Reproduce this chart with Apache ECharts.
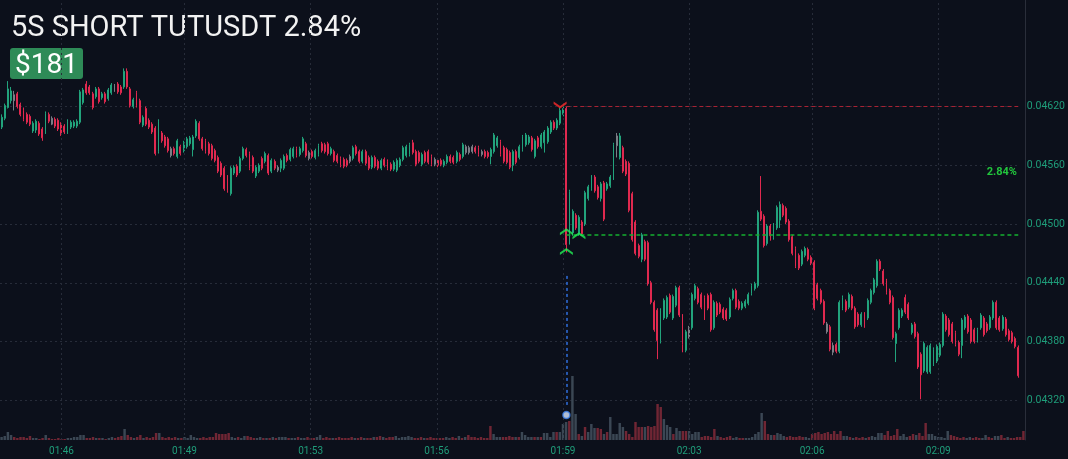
<!DOCTYPE html>
<html><head><meta charset="utf-8">
<script src="https://cdn.jsdelivr.net/npm/echarts@6/dist/echarts.min.js"></script>
<style>html,body{margin:0;padding:0;background:#0c101b}#c{width:1068px;height:459px}</style>
</head><body><div id="c"></div>
<script>
// [open, close, low, high]
const ohlc = [
[.04599,.04609,.04597,.04612],[.04608,.04621,.04606,.04623],[.04619,.04638,.04618,.04646],[.04626,.04636,.04623,.04640],[.04632,.04626,.04616,.04636],
[.04633,.04620,.04618,.04635],[.04622,.04612,.04610,.04624],[.04616,.04607,.04605,.04619],[.04612,.04604,.04602,.04614],[.04610,.04602,.04600,.04612],
[.04595,.04603,.04593,.04605],[.04596,.04605,.04593,.04607],[.04603,.04592,.04590,.04605],[.04597,.04588,.04585,.04599],[.04594,.04613,.04592,.04615],
[.04612,.04605,.04603,.04614],[.04608,.04602,.04601,.04610],[.04607,.04600,.04598,.04609],[.04606,.04597,.04595,.04608],[.04602,.04592,.04590,.04604],
[.04600,.04594,.04592,.04602],[.04594,.04605,.04592,.04607],[.04599,.04604,.04597,.04606],[.04600,.04604,.04598,.04606],[.04600,.04605,.04598,.04607],
[.04604,.04635,.04602,.04637],[.04624,.04637,.04622,.04639],[.04643,.04634,.04632,.04646],[.04640,.04634,.04632,.04642],[.04633,.04619,.04617,.04635],
[.04630,.04638,.04628,.04640],[.04638,.04625,.04623,.04640],[.04629,.04633,.04627,.04635],[.04633,.04625,.04623,.04635],[.04628,.04637,.04626,.04639],
[.04634,.04642,.04632,.04644],[.04641,.04637,.04635,.04643],[.04643,.04635,.04633,.04645],[.04640,.04634,.04632,.04642],[.04640,.04656,.04638,.04659],
[.04656,.04640,.04638,.04659],[.04638,.04621,.04619,.04640],[.04620,.04627,.04618,.04629],[.04634,.04621,.04619,.04636],[.04626,.04604,.04602,.04628],
[.04601,.04609,.04599,.04611],[.04618,.04602,.04600,.04620],[.04606,.04599,.04597,.04608],[.04602,.04594,.04592,.04604],[.04598,.04572,.04570,.04600],
[.04574,.04605,.04572,.04607],[.04593,.04585,.04583,.04595],[.04589,.04580,.04578,.04591],[.04587,.04575,.04573,.04589],[.04577,.04570,.04568,.04579],
[.04577,.04572,.04570,.04579],[.04569,.04585,.04567,.04587],[.04579,.04572,.04570,.04581],[.04575,.04583,.04573,.04585],[.04579,.04587,.04577,.04589],
[.04582,.04588,.04580,.04590],[.04576,.04589,.04569,.04591],[.04590,.04605,.04588,.04607],[.04603,.04587,.04585,.04605],[.04587,.04577,.04575,.04589],
[.04585,.04574,.04572,.04587],[.04582,.04572,.04570,.04584],[.04580,.04567,.04565,.04582],[.04575,.04565,.04563,.04577],[.04568,.04554,.04552,.04570],
[.04562,.04550,.04548,.04564],[.04557,.04536,.04534,.04559],[.04548,.04534,.04532,.04550],[.04531,.04557,.04529,.04559],[.04552,.04558,.04550,.04560],
[.04559,.04550,.04548,.04561],[.04554,.04567,.04552,.04569],[.04567,.04577,.04565,.04579],[.04576,.04570,.04568,.04578],[.04572,.04557,.04555,.04574],
[.04568,.04554,.04552,.04570],[.04549,.04558,.04547,.04560],[.04554,.04560,.04552,.04562],[.04567,.04557,.04555,.04569],[.04564,.04572,.04562,.04574],
[.04570,.04552,.04550,.04572],[.04554,.04565,.04552,.04567],[.04564,.04557,.04555,.04566],[.04555,.04558,.04553,.04560],[.04557,.04565,.04553,.04567],
[.04557,.04569,.04555,.04571],[.04570,.04565,.04563,.04572],[.04566,.04576,.04564,.04578],[.04569,.04577,.04567,.04579],[.04577,.04570,.04568,.04579],
[.04571,.04577,.04569,.04579],[.04575,.04587,.04573,.04589],[.04582,.04570,.04568,.04584],[.04573,.04567,.04565,.04575],[.04574,.04569,.04567,.04576],
[.04568,.04575,.04566,.04577],[.04571,.04580,.04569,.04582],[.04582,.04575,.04573,.04584],[.04581,.04574,.04572,.04583],[.04582,.04572,.04570,.04584],
[.04572,.04577,.04570,.04579],[.04574,.04565,.04563,.04576],[.04570,.04564,.04562,.04572],[.04567,.04560,.04558,.04569],[.04566,.04559,.04557,.04568],
[.04565,.04560,.04558,.04567],[.04569,.04564,.04562,.04571],[.04567,.04578,.04565,.04580],[.04579,.04572,.04570,.04581],[.04574,.04564,.04562,.04576],
[.04564,.04574,.04562,.04576],[.04574,.04562,.04560,.04576],[.04568,.04557,.04555,.04570],[.04558,.04568,.04556,.04570],[.04568,.04559,.04557,.04570],
[.04564,.04557,.04555,.04566],[.04557,.04565,.04555,.04567],[.04566,.04560,.04558,.04568],[.04564,.04557,.04555,.04566],[.04561,.04556,.04554,.04563],
[.04556,.04563,.04554,.04565],[.04555,.04565,.04553,.04567],[.04560,.04566,.04558,.04568],[.04566,.04578,.04564,.04580],[.04570,.04579,.04568,.04581],
[.04571,.04581,.04569,.04583],[.04583,.04573,.04571,.04586],[.04574,.04561,.04559,.04576],[.04573,.04564,.04562,.04575],[.04561,.04571,.04559,.04573],
[.04573,.04564,.04562,.04575],[.04574,.04563,.04561,.04576],[.04569,.04561,.04559,.04571],[.04566,.04561,.04559,.04568],[.04565,.04560,.04558,.04567],
[.04565,.04561,.04559,.04567],[.04560,.04564,.04558,.04566],[.04563,.04569,.04561,.04571],[.04569,.04564,.04562,.04571],[.04568,.04563,.04561,.04570],
[.04564,.04573,.04562,.04575],[.04571,.04566,.04564,.04573],[.04569,.04581,.04567,.04583],[.04579,.04573,.04571,.04581],[.04578,.04573,.04571,.04580],
[.04579,.04574,.04572,.04581],[.04578,.04574,.04572,.04580],[.04578,.04571,.04569,.04580],[.04574,.04571,.04569,.04576],[.04574,.04569,.04567,.04576],
[.04573,.04569,.04567,.04575],[.04569,.04576,.04561,.04578],[.04574,.04591,.04572,.04593],[.04580,.04588,.04578,.04590],[.04584,.04571,.04569,.04586],
[.04578,.04564,.04562,.04580],[.04576,.04563,.04561,.04578],[.04573,.04558,.04556,.04575],[.04560,.04574,.04554,.04576],[.04574,.04563,.04561,.04576],
[.04568,.04579,.04566,.04581],[.04576,.04589,.04574,.04591],[.04581,.04591,.04579,.04593],[.04583,.04589,.04581,.04591],[.04588,.04576,.04574,.04590],
[.04569,.04585,.04567,.04587],[.04588,.04579,.04577,.04590],[.04579,.04591,.04577,.04593],[.04583,.04594,.04573,.04596],[.04584,.04598,.04582,.04600],
[.04594,.04604,.04592,.04606],[.04604,.04598,.04596,.04606],[.04598,.04606,.04596,.04608],[.04603,.04616,.04601,.04619],[.04612,.04618,.04610,.04620],
[.04618,.04479,.04471,.04620],[.04489,.04533,.04479,.04535],[.04491,.04513,.04488,.04515],[.04509,.04496,.04494,.04511],[.04490,.04507,.04488,.04509],
[.04502,.04490,.04488,.04504],[.04500,.04532,.04498,.04534],[.04526,.04538,.04524,.04540],[.04536,.04548,.04534,.04550],[.04548,.04534,.04532,.04550],
[.04538,.04527,.04525,.04540],[.04526,.04541,.04523,.04543],[.04542,.04505,.04503,.04544],[.04536,.04541,.04534,.04543],[.04539,.04548,.04537,.04550],
[.04547,.04581,.04545,.04583],[.04580,.04590,.04568,.04593],[.04568,.04590,.04566,.04593],[.04578,.04554,.04552,.04580],[.04564,.04551,.04549,.04566],
[.04562,.04514,.04512,.04564],[.04531,.04484,.04482,.04533],[.04502,.04470,.04468,.04504],[.04478,.04467,.04465,.04480],[.04464,.04489,.04461,.04491],
[.04482,.04464,.04462,.04484],[.04481,.04439,.04437,.04483],[.04440,.04420,.04418,.04442],[.04420,.04392,.04390,.04422],[.04412,.04381,.04362,.04414],
[.04380,.04412,.04378,.04414],[.04404,.04422,.04402,.04424],[.04405,.04425,.04403,.04427],[.04427,.04410,.04408,.04429],[.04404,.04426,.04402,.04428],
[.04417,.04435,.04415,.04437],[.04435,.04407,.04405,.04437],[.04406,.04377,.04369,.04408],[.04371,.04390,.04369,.04392],[.04385,.04394,.04383,.04396],
[.04394,.04428,.04392,.04430],[.04424,.04437,.04422,.04439],[.04434,.04420,.04418,.04436],[.04428,.04415,.04413,.04430],[.04425,.04404,.04402,.04427],
[.04427,.04414,.04412,.04429],[.04428,.04392,.04390,.04430],[.04394,.04420,.04392,.04422],[.04419,.04407,.04405,.04421],[.04418,.04410,.04408,.04420],
[.04413,.04404,.04402,.04415],[.04412,.04403,.04401,.04414],[.04405,.04423,.04403,.04425],[.04424,.04432,.04422,.04434],[.04432,.04415,.04413,.04434],
[.04421,.04414,.04412,.04423],[.04414,.04419,.04412,.04421],[.04416,.04421,.04414,.04423],[.04419,.04428,.04417,.04430],[.04429,.04437,.04427,.04439],
[.04434,.04439,.04432,.04441],[.04437,.04512,.04435,.04514],[.04513,.04505,.04503,.04549],[.04508,.04478,.04476,.04510],[.04480,.04498,.04478,.04500],
[.04498,.04488,.04483,.04500],[.04486,.04498,.04484,.04501],[.04496,.04517,.04494,.04519],[.04504,.04520,.04496,.04523],[.04519,.04509,.04507,.04521],
[.04516,.04502,.04500,.04518],[.04503,.04484,.04482,.04505],[.04487,.04470,.04468,.04489],[.04475,.04457,.04455,.04477],[.04468,.04455,.04453,.04470],
[.04459,.04472,.04457,.04474],[.04468,.04475,.04466,.04477],[.04474,.04464,.04462,.04476],[.04466,.04460,.04458,.04468],[.04461,.04414,.04412,.04463],
[.04438,.04424,.04422,.04440],[.04432,.04420,.04418,.04434],[.04421,.04399,.04397,.04423],[.04398,.04390,.04388,.04400],[.04395,.04372,.04370,.04397],
[.04376,.04369,.04366,.04379],[.04377,.04370,.04368,.04379],[.04370,.04420,.04368,.04422],[.04414,.04425,.04412,.04427],[.04421,.04412,.04410,.04423],
[.04415,.04428,.04413,.04430],[.04426,.04414,.04412,.04428],[.04414,.04395,.04393,.04416],[.04408,.04397,.04395,.04410],[.04397,.04408,.04395,.04410],
[.04408,.04397,.04394,.04410],[.04404,.04422,.04402,.04424],[.04420,.04432,.04418,.04434],[.04430,.04443,.04428,.04445],[.04437,.04462,.04435,.04464],
[.04462,.04454,.04452,.04464],[.04452,.04439,.04437,.04454],[.04442,.04430,.04428,.04444],[.04432,.04420,.04418,.04434],[.04425,.04384,.04382,.04427],
[.04378,.04388,.04359,.04390],[.04394,.04412,.04392,.04414],[.04406,.04412,.04404,.04414],[.04425,.04410,.04408,.04428],[.04418,.04404,.04402,.04420],
[.04389,.04397,.04387,.04399],[.04398,.04385,.04383,.04400],[.04388,.04354,.04352,.04390],[.04367,.04346,.04321,.04369],[.04350,.04378,.04348,.04380],
[.04349,.04374,.04347,.04376],[.04349,.04376,.04347,.04378],[.04357,.04372,.04355,.04374],[.04360,.04375,.04358,.04377],[.04366,.04377,.04364,.04379],
[.04376,.04408,.04374,.04410],[.04406,.04392,.04390,.04408],[.04402,.04387,.04385,.04404],[.04398,.04380,.04378,.04400],[.04389,.04377,.04375,.04391],
[.04379,.04367,.04365,.04381],[.04376,.04402,.04363,.04404],[.04394,.04405,.04392,.04407],[.04406,.04390,.04388,.04408],[.04402,.04380,.04378,.04404],
[.04392,.04380,.04378,.04394],[.04381,.04392,.04379,.04394],[.04394,.04407,.04392,.04409],[.04404,.04387,.04385,.04406],[.04398,.04391,.04389,.04400],
[.04394,.04405,.04392,.04407],[.04404,.04420,.04402,.04422],[.04420,.04394,.04392,.04422],[.04404,.04392,.04390,.04406],[.04393,.04405,.04391,.04407],
[.04403,.04387,.04385,.04405],[.04391,.04382,.04380,.04393],[.04389,.04380,.04378,.04391],[.04383,.04375,.04373,.04385],[.04374,.04345,.04343,.04376]
];
const volume = [
3,4,8,5,3,2,3,3,2,4, 2,2,1,2,5,2,1,1,2,1, 1,2,2,3,3,5,5,2,2,3, 2,2,2,1,2,3,2,3,4,11,
5,3,2,3,5,2,3,2,3,7, 7,3,2,3,2,3,2,2,3,2, 5,3,2,2,3,2,3,3,7,6, 6,6,7,3,2,3,2,4,4,3,
2,2,3,2,2,2,3,2,3,3, 3,2,2,2,3,2,2,3,2,2, 3,5,2,3,2,2,2,3,2,2, 2,3,2,2,3,2,2,2,3,3,
4,3,2,3,3,4,2,3,3,4, 3,2,2,3,2,2,3,2,2,2, 2,3,2,3,2,4,2,3,5,3, 3,2,3,2,2,14,6,3,3,3,
3,4,3,3,3,8,5,3,3,3, 3,3,7,7,3,8,8,8,16,18, 19,64,26,6,4,13,8,16,12,12, 11,6,8,23,6,6,17,13,9,6,
3,18,13,13,13,14,13,14,36,33, 21,15,13,6,12,9,9,9,9,6, 8,8,3,4,4,3,11,4,3,2, 3,4,2,3,2,2,2,2,3,6,
8,27,19,6,5,5,7,6,4,3, 4,3,3,4,3,3,2,6,7,8, 6,7,8,6,9,6,9,4,4,3, 2,3,2,3,2,3,4,3,7,7,
5,9,4,5,11,4,6,3,4,6, 5,7,4,17,6,6,4,3,3,2, 9,5,4,3,2,3,2,3,2,3, 2,2,5,3,2,4,4,5,2,3,
2,2,3,3,9
];
const grayIdx = [4,16,36,54,88,98,111,138,148,149,150,153,196,219,263,265];
const tickIdx = [19,58,98,138,178,218,257,297];
const tickLabels = ['01:46','01:49','01:53','01:56','01:59','02:03','02:06','02:09'];
const entryPrice = 0.04620, exitPrice = 0.04489, tradeStart = 180, lastIdx = 324;
const entryMarks = [[178, 0.046215]];
const exitMarks = [[180, 0.04492], [184, 0.04488], [180, 0.04472]];
const blueLine = [[180, 0.04447], [180, 0.04312]];
const blueDot = [[180, 0.04305]];

const categories = [];
for (let i = 0; i < ohlc.length; i++) {
  const t = 6272 + i * 5;
  const h = Math.floor(t / 3600), m = Math.floor((t % 3600) / 60), s = t % 60;
  categories.push([h, m, s].map(v => String(v).padStart(2, '0')).join(':'));
}

const upC = '#22a37c', downC = '#e0294f', grayC = '#7b7e86';
const labelC = '#1f9d7a', gridC = '#272c39';
const candleData = ohlc.map((d, i) => grayIdx.includes(i)
  ? {value: d, itemStyle: {color: grayC, color0: grayC, borderColor: grayC, borderColor0: grayC}} : d);
const volData = volume.map((v, i) => ({value: v, itemStyle: {color: ohlc[i][1] >= ohlc[i][0] ? '#3b4754' : '#702634'}}));
const hLine = (price, color, w) => ({silent: true, symbol: ['none', 'none'], label: {show: false}, animation: false,
  lineStyle: {color: color, type: [4, 3], width: w, opacity: 1},
  data: [[{coord: [tradeStart, price]}, {coord: [lastIdx, price]}]]});

const chart = echarts.init(document.getElementById('c'));
chart.setOption({
  backgroundColor: '#0c101b',
  animation: false,
  textStyle: {fontFamily: 'Roboto'},
  grid: [
    {left: 0, right: 43, top: 47.8, height: 416.5},
    {left: 0, right: 43, top: 0, bottom: 19}
  ],
  xAxis: [
    {type: 'category', data: categories, gridIndex: 0, axisLine: {show: false}, axisTick: {show: false}, axisLabel: {show: false}, splitLine: {show: false}},
    {type: 'category', data: categories, gridIndex: 1, axisLine: {show: false}, axisTick: {show: false}, splitLine: {show: false},
     axisLabel: {interval: (i) => tickIdx.includes(i), formatter: (v, i) => tickLabels[tickIdx.indexOf(i)] || '', color: labelC, fontSize: 10, margin: 6}}
  ],
  yAxis: [
    {type: 'value', gridIndex: 0, position: 'right', min: 0.0426, max: 0.0468, interval: 0.0006, scale: true,
     axisLine: {show: false}, axisTick: {show: false},
     axisLabel: {color: labelC, fontSize: 10.5, margin: 7, showMinLabel: false, showMaxLabel: false, formatter: v => v.toFixed(5)},
     splitLine: {show: true, showMinLine: false, showMaxLine: false, lineStyle: {color: gridC, type: [2, 3], width: 1}}},
    {type: 'value', gridIndex: 1, position: 'right', min: 0, max: 440,
     axisLine: {show: true, lineStyle: {color: '#2a2e3a'}}, axisTick: {show: false}, axisLabel: {show: false}, splitLine: {show: false}}
  ],
  graphic: [
    {type: 'text', x: 11, y: 28.5, style: {text: '5S SHORT TUTUSDT 2.84%', fill: '#f2f2f2', fontSize: 29, fontFamily: 'Roboto', align: 'left', verticalAlign: 'middle'}},
    {type: 'rect', shape: {x: 10, y: 48, width: 73, height: 31, r: 3}, style: {fill: '#2e8b57'}},
    {type: 'text', x: 46.5, y: 65.5, style: {text: '$181', fill: '#ffffff', fontSize: 28, fontFamily: 'Roboto', align: 'center', verticalAlign: 'middle'}},
    {type: 'text', x: 1017, y: 172.5, style: {text: '2.84%', fill: '#22c53d', fontSize: 11, fontWeight: 'bold', fontFamily: 'Roboto', align: 'right', verticalAlign: 'middle'}}
  ],
  series: [
    {type: 'bar', xAxisIndex: 1, yAxisIndex: 1, data: volData, barWidth: '78%', z: 1, silent: true,
     markLine: {silent: true, symbol: ['none', 'none'], label: {show: false}, animation: false,
       lineStyle: {color: gridC, type: [2, 3], width: 1}, data: tickIdx.map(i => ({xAxis: i}))}},
    {type: 'candlestick', xAxisIndex: 0, yAxisIndex: 0, data: candleData, barWidth: 1.4, z: 3, silent: true,
     itemStyle: {color: upC, color0: downC, borderColor: upC, borderColor0: downC, borderWidth: 1}},
    {type: 'scatter', xAxisIndex: 0, yAxisIndex: 0, data: blueDot, symbol: 'circle', symbolSize: 7, z: 7, silent: true,
     itemStyle: {color: '#dbe8ff', borderColor: '#3a7ee8', borderWidth: 1.5},
     markLine: {silent: true, symbol: ['none', 'none'], label: {show: false}, animation: false,
       lineStyle: {color: '#2f6fe0', type: [3, 3], width: 1.5},
       data: [[{coord: blueLine[0]}, {coord: blueLine[1]}]]}},
    {type: 'scatter', xAxisIndex: 0, yAxisIndex: 0, data: entryMarks, z: 8, silent: true,
     symbol: 'path://M0,0L5,5L10,0L10,2.8L5,7.8L0,2.8Z', symbolSize: [13, 7], itemStyle: {color: '#ff2b2b'},
     markLine: hLine(entryPrice, '#a82233', 1.2)},
    {type: 'scatter', xAxisIndex: 0, yAxisIndex: 0, data: exitMarks, z: 8, silent: true,
     symbol: 'path://M0,7.8L5,2.8L10,7.8L10,5L5,0L0,5Z', symbolSize: [13, 7], itemStyle: {color: '#22ee55'},
     markLine: hLine(exitPrice, '#14b030', 1.6)}
  ]
});
</script>
</body></html>
